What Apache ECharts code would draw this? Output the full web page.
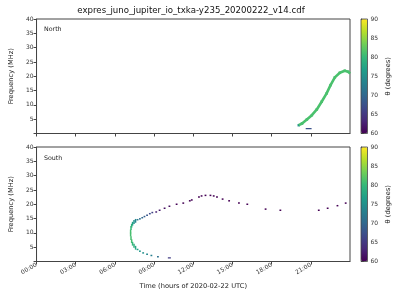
<!DOCTYPE html>
<html>
<head>
<meta charset="utf-8">
<script src="https://cdn.jsdelivr.net/npm/echarts@6/dist/echarts.min.js"></script>
<style>
html, body { margin: 0; padding: 0; background: #fff; }
#chart { width: 400px; height: 300px; }
</style>
</head>
<body>
<div id="chart"></div>
<script>
// x: hours of 2020-02-22, y: frequency (MHz), theta: degrees
var hourTicks = [0, 3, 6, 9, 12, 15, 18, 21];

// North band
var northTime  = [20.07, 20.32, 20.69, 21.07, 21.45, 21.82, 22.2, 22.5, 22.83, 23.21, 23.59, 23.84, 24.0];
var northFreq  = [2.9, 3.5, 4.9, 6.4, 8.4, 11.1, 14.0, 16.9, 19.6, 21.2, 21.9, 21.6, 21.0];
var northTheta = [75, 78, 80, 81, 81, 81, 81, 81, 81, 81, 81, 81, 81];
var northDashTime = [20.6, 21.05];
var northDashFreq = [1.7, 1.7];

// South arc, continuous vertical part
var southArcTime  = [7.58, 7.46, 7.35, 7.28, 7.23, 7.2, 7.2, 7.23, 7.28, 7.35, 7.46, 7.58];
var southArcFreq  = [14.2, 13.8, 13.2, 12.5, 11.7, 10.5, 9.4, 8.2, 7.1, 6.2, 5.5, 4.8];
var southArcTheta = [74, 75, 77, 79, 80, 81, 81, 81, 81, 80, 79, 78];

// South separate dots (arc tails + sparse part)
var southDotTime  = [9.29, 8.79, 8.46, 8.16, 7.91, 7.73,
                     7.73, 7.91, 8.09, 8.26, 8.46, 8.67, 8.86,
                     9.16, 9.42, 9.8, 10.17, 10.72, 11.23, 11.73, 11.88, 12.43, 12.63, 12.93, 13.31,
                     13.56, 13.81, 14.24, 14.74, 15.49, 16.13, 17.53, 18.66, 21.6, 22.28, 23.03, 23.66];
var southDotFreq  = [1.7, 2.1, 2.5, 3.0, 3.6, 4.2,
                     14.6, 14.9, 15.3, 15.7, 16.2, 16.7, 17.1,
                     17.3, 17.9, 18.6, 19.3, 20.0, 20.4, 21.2, 21.5, 22.5, 22.9, 23.1, 23.1,
                     22.9, 22.5, 21.8, 21.2, 20.4, 20.0, 18.3, 17.9, 17.9, 18.6, 19.5, 20.4];
var southDotTheta = [71, 73, 74, 75, 76, 77,
                     72, 71, 70, 69, 68, 67, 66,
                     63, 62, 61, 61, 60, 60, 60, 60, 60, 60, 60, 60,
                     60, 60, 60, 60, 60, 60, 60, 60, 60, 60, 60, 60];
var southDashTime = [10.05, 10.28];
var southDashFreq = [1.3, 1.3];

var thetaMin = 60, thetaMax = 90;
var viridis = ['#440154', '#482878', '#3e4989', '#31688e', '#26828e', '#1f9e89', '#35b779', '#6ece58', '#b5de2b', '#fde725'];

function zip3(a, b, c) {
  return a.map(function (v, i) { return c ? [v, b[i], c[i]] : [v, b[i]]; });
}

var font = 'DejaVu Sans';
var frame = '#444';
var plotLeft = 32, plotWidth = 318;
var topY = 19, bottomY = 147, panelH = 114.5;

function hourLabel(v) {
  return (v < 10 ? '0' : '') + v + ':00';
}

function timeAxis(idx, showLabel) {
  return {
    type: 'value', gridIndex: idx, min: 0, max: 23.99, interval: 3,
    axisLine: { show: true, lineStyle: { color: frame, width: 1 } },
    axisTick: { show: true, length: 3, lineStyle: { color: frame }, customValues: hourTicks },
    splitLine: { show: false },
    axisLabel: { show: showLabel, rotate: 30, fontSize: 6, margin: 3, color: '#333', fontFamily: font,
      formatter: hourLabel, customValues: hourTicks },
    name: showLabel ? 'Time (hours of 2020-02-22 UTC)' : '',
    nameLocation: 'middle', nameGap: 21,
    nameTextStyle: { fontSize: 6.7, color: '#222', fontFamily: font }
  };
}

function freqAxis(idx) {
  return {
    type: 'value', gridIndex: idx, min: 0, max: 40, interval: 5,
    axisLine: { show: true, lineStyle: { color: frame, width: 1 } },
    axisTick: { show: true, length: 3, lineStyle: { color: frame } },
    splitLine: { show: false },
    axisLabel: { fontSize: 6, margin: 3, color: '#333', fontFamily: font, formatter: function (v) { return v === 0 ? '' : v; } },
    name: 'Frequency (MHz)', nameLocation: 'middle', nameGap: 17,
    nameTextStyle: { fontSize: 6.7, color: '#222', fontFamily: font }
  };
}

function cbarAxis(idx) {
  return {
    type: 'value', gridIndex: idx, position: 'right', min: thetaMin, max: thetaMax, interval: 5,
    axisLine: { show: true, lineStyle: { color: frame, width: 0.8 } },
    axisTick: { show: true, length: 3, lineStyle: { color: frame } },
    splitLine: { show: false },
    axisLabel: { fontSize: 6, margin: 3, color: '#333', fontFamily: font },
    name: 'θ (degrees)', nameLocation: 'middle', nameGap: 17, nameRotate: 90,
    nameTextStyle: { fontSize: 6.7, color: '#222', fontFamily: font }
  };
}

function cbarX(idx) {
  return { type: 'value', gridIndex: idx, show: false, min: 0, max: 1 };
}

var option = {
  animation: false,
  backgroundColor: '#fff',
  title: [
    { text: 'expres_juno_jupiter_io_txka-y235_20200222_v14.cdf', left: 191, top: 6.5, padding: 0, textAlign: 'center',
      textStyle: { fontSize: 8.6, fontWeight: 'normal', color: '#111', fontFamily: font } },
    { text: 'North', left: 44, top: 26.5, padding: 0, textStyle: { fontSize: 6.3, fontWeight: 'normal', color: '#222', fontFamily: font } },
    { text: 'South', left: 44, top: 155, padding: 0, textStyle: { fontSize: 6.3, fontWeight: 'normal', color: '#222', fontFamily: font } }
  ],
  grid: [
    { left: plotLeft, top: topY, width: plotWidth, height: panelH, show: true, borderColor: frame, borderWidth: 1, backgroundColor: 'transparent' },
    { left: plotLeft, top: bottomY, width: plotWidth, height: panelH, show: true, borderColor: frame, borderWidth: 1, backgroundColor: 'transparent' },
    { left: 361, top: topY, width: 6.5, height: panelH, show: true, z: 10, borderColor: frame, borderWidth: 0.8, backgroundColor: 'transparent' },
    { left: 361, top: bottomY, width: 6.5, height: panelH, show: true, z: 10, borderColor: frame, borderWidth: 0.8, backgroundColor: 'transparent' }
  ],
  xAxis: [timeAxis(0, false), timeAxis(1, true), cbarX(2), cbarX(3)],
  yAxis: [freqAxis(0), freqAxis(1), cbarAxis(2), cbarAxis(3)],
  visualMap: [
    { type: 'continuous', min: thetaMin, max: thetaMax, dimension: 2, seriesIndex: [1],
      left: 361, top: topY, itemWidth: 6.5, itemHeight: panelH, padding: 0,
      calculable: false, text: null, inRange: { color: viridis } },
    { type: 'continuous', min: thetaMin, max: thetaMax, dimension: 2, seriesIndex: [3, 4],
      left: 361, top: bottomY, itemWidth: 6.5, itemHeight: panelH, padding: 0,
      calculable: false, text: null, inRange: { color: viridis } }
  ],
  series: [
    { type: 'line', xAxisIndex: 0, yAxisIndex: 0, data: zip3(northTime, northFreq), symbol: 'none', silent: true,
      lineStyle: { width: 2.6, color: '#4ac16d' } },
    { type: 'scatter', xAxisIndex: 0, yAxisIndex: 0, data: zip3(northTime, northFreq, northTheta), symbol: 'rect', symbolSize: 2.5, silent: true,
      itemStyle: { opacity: 1 } },
    { type: 'line', xAxisIndex: 0, yAxisIndex: 0, data: zip3(northDashTime, northDashFreq), symbol: 'none', silent: true,
      lineStyle: { width: 1.2, color: '#3b528b' } },
    { type: 'scatter', xAxisIndex: 1, yAxisIndex: 1, data: zip3(southArcTime, southArcFreq, southArcTheta), symbol: 'rect', symbolSize: [1.5, 3.8], silent: true,
      itemStyle: { opacity: 1 } },
    { type: 'scatter', xAxisIndex: 1, yAxisIndex: 1, data: zip3(southDotTime, southDotFreq, southDotTheta), symbol: 'rect', symbolSize: [1.8, 1.5], silent: true,
      itemStyle: { opacity: 1 } },
    { type: 'line', xAxisIndex: 1, yAxisIndex: 1, data: zip3(southDashTime, southDashFreq), symbol: 'none', silent: true,
      lineStyle: { width: 1.2, color: '#433e85' } }
  ]
};

var chart = echarts.init(document.getElementById('chart'));
chart.setOption(option);
window.onresize = function () { chart.resize(); };
</script>
</body>
</html>
